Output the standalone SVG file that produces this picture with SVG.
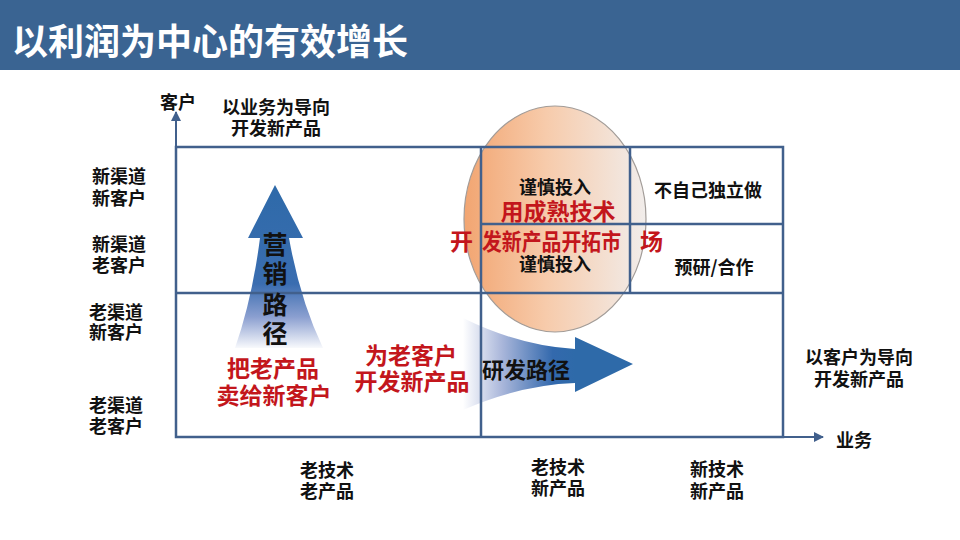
<svg xmlns="http://www.w3.org/2000/svg" width="960" height="540" viewBox="0 0 960 540">
<defs>
<style>
text{font-family:"Noto Sans CJK SC","Liberation Sans",sans-serif;font-weight:bold}
.lb{font-size:18px;fill:#111;text-anchor:middle}
.red{font-size:23px;fill:#c3161c;text-anchor:middle}
.grid{stroke:#41608c;stroke-width:2.5;fill:none}
.axis{stroke:#41608c;stroke-width:2;fill:none}
</style>
<marker id="ah" viewBox="0 0 10 10" refX="9" refY="5" markerWidth="5" markerHeight="5" orient="auto" markerUnits="strokeWidth">
<path d="M0,0 L10,5 L0,10 Z" fill="#41608c"/>
</marker>
<linearGradient id="gc" x1="0" y1="0" x2="1" y2="0">
<stop offset="0" stop-color="#f2a571"/>
<stop offset="0.45" stop-color="#f7cbab"/>
<stop offset="1" stop-color="#f1edeb"/>
</linearGradient>
<linearGradient id="gv" gradientUnits="userSpaceOnUse" x1="0" y1="185" x2="0" y2="350">
<stop offset="0" stop-color="#2e6aa9"/>
<stop offset="0.6" stop-color="#3a6db0"/>
<stop offset="0.8" stop-color="#8b9fd0"/>
<stop offset="1" stop-color="#ffffff"/>
</linearGradient>
<linearGradient id="gh" gradientUnits="userSpaceOnUse" x1="463" y1="0" x2="575" y2="0">
<stop offset="0" stop-color="#ffffff"/>
<stop offset="0.35" stop-color="#a9b6da"/>
<stop offset="0.8" stop-color="#3369ad"/>
<stop offset="1" stop-color="#2e6aa9"/>
</linearGradient>
</defs>
<rect width="960" height="540" fill="#ffffff"/>
<g id="title">
<rect x="0" y="0" width="960" height="70" fill="#3a6492"/>
<text x="12" y="55" font-size="36" fill="#ffffff">以利润为中心的有效增长</text>
</g>
<g id="circle">
<ellipse cx="555" cy="219" rx="91" ry="113" fill="url(#gc)" stroke="#a29c98" stroke-width="1.2"/>
</g>
<g id="marketing-arrow">
<path d="M275,185 L303,238 L289,238 Q300,300 323,348 L235,348 Q252,300 260,238 L248,238 Z" fill="url(#gv)"/>
</g>
<g id="rd-arrow">
<path d="M463,318 Q520,346 575,349 L575,337 L633,364 L575,392 L575,383 Q520,385 463,410 Z" fill="url(#gh)"/>
</g>
<g id="connectors">
<line class="axis" x1="176" y1="148" x2="176" y2="112" marker-end="url(#ah)"/>
<line class="axis" x1="783" y1="437" x2="823" y2="437" marker-end="url(#ah)"/>
</g>
<g id="grid">
<rect class="grid" x="176" y="147" width="607" height="290"/>
<line class="grid" x1="176" y1="293" x2="783" y2="293"/>
<line class="grid" x1="481" y1="147" x2="481" y2="437"/>
<line class="grid" x1="630" y1="147" x2="630" y2="293"/>
<line class="grid" x1="481" y1="224" x2="783" y2="224"/>
</g>
<g id="axis-labels">
<text class="lb" x="178" y="109">客户</text>
<text class="lb" x="276" y="114">以业务为导向</text>
<text class="lb" x="276" y="135">开发新产品</text>
<text class="lb" x="854" y="447">业务</text>
<text class="lb" x="859" y="364">以客户为导向</text>
<text class="lb" x="859" y="386">开发新产品</text>
</g>
<g id="row-labels">
<text class="lb" x="119" y="183">新渠道</text>
<text class="lb" x="119" y="205">新客户</text>
<text class="lb" x="119" y="251">新渠道</text>
<text class="lb" x="119" y="272">老客户</text>
<text class="lb" x="116" y="319">老渠道</text>
<text class="lb" x="116" y="339">新客户</text>
<text class="lb" x="116" y="412">老渠道</text>
<text class="lb" x="116" y="433">老客户</text>
</g>
<g id="col-labels">
<text class="lb" x="327" y="477">老技术</text>
<text class="lb" x="327" y="498">老产品</text>
<text class="lb" x="558" y="474">老技术</text>
<text class="lb" x="558" y="495">新产品</text>
<text class="lb" x="717" y="476">新技术</text>
<text class="lb" x="717" y="498">新产品</text>
</g>
<g id="cells">
<text class="lb" x="555" y="194">谨慎投入</text>
<text class="red" x="558" y="220">用成熟技术</text>
<text font-size="23" fill="#c3161c"><tspan x="450" y="250">开</tspan><tspan x="482" y="250" textLength="139" lengthAdjust="spacingAndGlyphs">发新产品开拓市</tspan><tspan x="640" y="250">场</tspan></text>
<text class="lb" x="555" y="271">谨慎投入</text>
<text class="lb" x="708" y="197">不自己独立做</text>
<text class="lb" x="714" y="274">预研/合作</text>
</g>
<g id="path-labels">
<text font-size="25" fill="#111" text-anchor="middle"><tspan x="275" y="254">营</tspan><tspan x="275" y="283">销</tspan><tspan x="275" y="314">路</tspan><tspan x="275" y="343">径</tspan></text>
<text class="red" x="273" y="377">把老产品</text>
<text class="red" x="274" y="404">卖给新客户</text>
<text class="red" x="411" y="364">为老客户</text>
<text class="red" x="412" y="390">开发新产品</text>
<text x="482" y="378" font-size="22" fill="#111">研发路径</text>
</g>
</svg>
